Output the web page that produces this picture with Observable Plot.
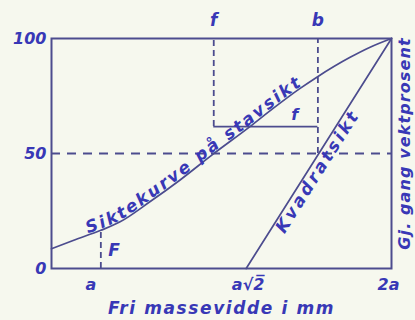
<!DOCTYPE html>
<html>
<head>
<meta charset="utf-8">
<script src="https://cdn.jsdelivr.net/npm/d3@7"></script>
<script src="https://cdn.jsdelivr.net/npm/@observablehq/plot@0.6"></script>
<style>
  html, body { margin: 0; padding: 0; background: #f6f8ee; }
</style>
</head>
<body>
<div id="chart"></div>
<script>
// Siktekurve på stavsikt (sieve curve), x in units of a (log scale), y = weight % passing
const sizeX   = [0.889, 0.936, 1.0, 1.047, 1.124, 1.208, 1.303, 1.427, 1.507, 1.607, 1.677, 1.810, 1.898, 2.0];
const passing = [8.6, 12.2, 16.6, 20.3, 29.0, 38.5, 49.3, 61.7, 69.5, 78.2, 83.4, 91.7, 96.1, 100];
// Kvadratsikt (square mesh): straight line
const kvadratX = [1.4142, 2];
const kvadratY = [0, 100];
// construction lines
const fSize = 1.309;      // "f"
const bSize = 1.678;      // "b"
const boxLevel = 61.7;    // bottom of the f-box
const fLevel = 16.6;      // F at size a
// ticks and labels
const yTicks = [0, 50, 100];
const xTicks = [1, Math.SQRT2, 2];
const xTickLabels = ["a", "a\u221A2\u0305", "2a"];
const topTicks = [fSize, bSize];
const topLabels = ["f", "b"];
const curveLabel = "Siktekurve på stavsikt";
const kvadratLabel = "Kvadratsikt";
const xTitle = "Fri massevidde i mm";
const yTitle = "Gj. gang vektprosent";

const INK = "#3838b6";
const LINE = "#4c4c8e";
const BG = "#f6f8ee";
const W = 415, H = 320, ML = 51, MR = 24, MT = 38, MB = 52;
const xMin = 0.889;
const FONT = "DejaVu Sans";
const FS = 16;
const FS_ALONG = 17;

const curve = sizeX.map((x, i) => ({x, y: passing[i]}));
const kvadrat = kvadratX.map((x, i) => ({x, y: kvadratY[i]}));

// scales identical to the plot's, to lay out lettering along the lines
const sx = Plot.scale({x: {type: "log", domain: [xMin, 2], range: [ML, W - MR]}});
const sy = Plot.scale({y: {type: "linear", domain: [0, 100], range: [H - MB, MT]}});

function sampler(data, curveFactory) {
  const pts = data.map(d => [sx.apply(d.x), sy.apply(d.y)]);
  const ns = "http://www.w3.org/2000/svg";
  const svg = document.createElementNS(ns, "svg");
  const path = document.createElementNS(ns, "path");
  path.setAttribute("d", d3.line().curve(curveFactory)(pts));
  svg.appendChild(path);
  document.body.appendChild(svg);
  const total = path.getTotalLength();
  const N = 600, S = [];
  for (let i = 0; i <= N; i++) {
    const p = path.getPointAtLength(total * i / N);
    S.push({x: p.x, y: p.y, s: total * i / N});
  }
  svg.remove();
  return S;
}
function pointAt(S, s) {
  s = Math.max(0, Math.min(S[S.length - 1].s, s));
  let i = S.findIndex(p => p.s >= s);
  if (i <= 0) return S[0];
  const a = S[i - 1], b = S[i], t = (s - a.s) / (b.s - a.s || 1);
  return {x: a.x + t * (b.x - a.x), y: a.y + t * (b.y - a.y)};
}
const ctx = document.createElement("canvas").getContext("2d");
function along(str, S, startX, spacing, gap, side) {
  ctx.font = `italic bold ${FS_ALONG}px "${FONT}"`;
  let s = S.find(p => p.x >= startX).s;
  const out = [];
  for (const ch of str) {
    const w = ctx.measureText(ch).width;
    if (ch !== " ") {
      const c = s + w / 2;
      const p = pointAt(S, c), q1 = pointAt(S, c - 3), q2 = pointAt(S, c + 3);
      const ang = Math.atan2(q2.y - q1.y, q2.x - q1.x);
      const nx = Math.sin(ang) * side, ny = -Math.cos(ang) * side;
      out.push({ch, x: sx.invert(p.x + nx * gap), y: sy.invert(p.y + ny * gap), angle: ang * 180 / Math.PI});
    }
    s += w + spacing;
  }
  return out;
}
const curveGlyphs = along(curveLabel, sampler(curve, d3.curveMonotoneX), 88, 2.2, 1.5, 1);
const kvadratGlyphs = along(kvadratLabel, sampler(kvadrat, d3.curveLinear), 272, 2.8, 2, -1);

const txt = {fill: INK, fontFamily: FONT, fontStyle: "italic", fontWeight: "bold", fontSize: FS};

const chart = Plot.plot({
  width: W,
  height: H,
  marginLeft: ML,
  marginRight: MR,
  marginTop: MT,
  marginBottom: MB,
  style: {background: BG, fontFamily: FONT, overflow: "visible"},
  x: {type: "log", domain: [xMin, 2], axis: null},
  y: {domain: [0, 100], axis: null},
  marks: [
    Plot.ruleY([50], {x1: xMin, x2: 2, stroke: LINE, strokeWidth: 2, strokeDasharray: "9,7"}),
    Plot.ruleX([fSize], {y1: boxLevel, y2: 100, stroke: LINE, strokeWidth: 1.8, strokeDasharray: "6,4"}),
    Plot.ruleX([bSize], {y1: 50, y2: 100, stroke: LINE, strokeWidth: 1.8, strokeDasharray: "6,4"}),
    Plot.ruleY([boxLevel], {x1: fSize, x2: bSize, stroke: LINE, strokeWidth: 1.6}),
    Plot.ruleX([1], {y1: 0, y2: fLevel, stroke: LINE, strokeWidth: 1.8, strokeDasharray: "6,4"}),
    Plot.line(curve, {x: "x", y: "y", curve: "monotone-x", stroke: LINE, strokeWidth: 1.7}),
    Plot.line(kvadrat, {x: "x", y: "y", stroke: LINE, strokeWidth: 1.7}),
    Plot.frame({stroke: LINE, strokeWidth: 2}),
    // y tick labels
    Plot.text(yTicks, {y: d => d, text: d => String(d), frameAnchor: "left", textAnchor: "end", lineAnchor: "middle", dx: -5, ...txt}),
    // x tick labels
    ...xTicks.map((t, i) => Plot.text([t], {x: d => d, text: () => xTickLabels[i], frameAnchor: "bottom", lineAnchor: "middle", dy: 16, dx: [-10, 2, -3][i], ...txt})),
    // top labels f, b
    Plot.text(topTicks, {x: d => d, text: (d, i) => topLabels[i], frameAnchor: "top", lineAnchor: "middle", dy: -18, ...txt, fontSize: 17}),
    // lettering along the curves
    Plot.text(curveGlyphs, {x: "x", y: "y", text: "ch", rotate: d => d.angle, textAnchor: "middle", lineAnchor: "bottom", ...txt, fontSize: FS_ALONG}),
    Plot.text(kvadratGlyphs, {x: "x", y: "y", text: "ch", rotate: d => d.angle, textAnchor: "middle", lineAnchor: "top", ...txt, fontSize: FS_ALONG}),
    Plot.text(["F"], {x: 1.032, y: 7.6, lineAnchor: "middle", ...txt, fontSize: 17}),
    Plot.text(["f"], {x: 1.588, y: 66.9, lineAnchor: "middle", ...txt}),
    // axis titles
    Plot.text([yTitle], {frameAnchor: "right", textAnchor: "middle", lineAnchor: "middle", dx: 13, dy: -10, rotate: -90, ...txt}),
    Plot.text([xTitle], {frameAnchor: "bottom", textAnchor: "middle", lineAnchor: "middle", dy: 40, ...txt, fontSize: 17})
  ]
});

// wide drafting-style letter spacing on the titles
d3.select(chart).selectAll("text").each(function () {
  const t = this.textContent;
  if (t === xTitle) d3.select(this).style("letter-spacing", "1.6px");
  if (t === yTitle) d3.select(this).style("letter-spacing", "1.1px");
});

document.getElementById("chart").appendChild(chart);
</script>
</body>
</html>
